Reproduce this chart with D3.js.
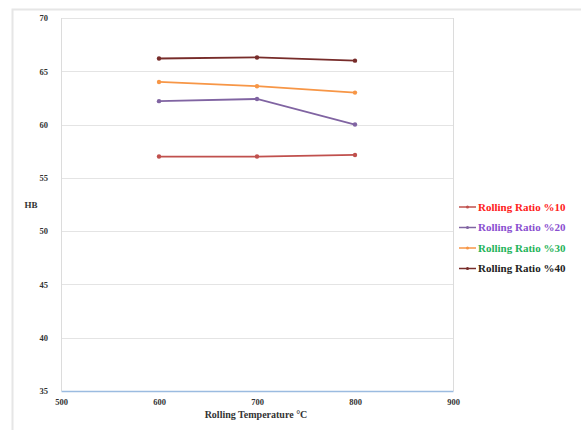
<!DOCTYPE html>
<html><head><meta charset="utf-8">
<script src="https://cdn.jsdelivr.net/npm/d3@7"></script>
<style>body{margin:0;background:#fff}svg{display:block}text{font-family:"Liberation Serif","Times New Roman",serif;font-weight:bold}</style>
</head><body>
<svg id="c" width="581" height="430"></svg>
<script>
const temps = [600, 700, 800];
const seriesNames = ["Rolling Ratio %10", "Rolling Ratio %20", "Rolling Ratio %30", "Rolling Ratio %40"];
const ratio10 = [57.0, 57.0, 57.15];
const ratio20 = [62.2, 62.4, 60.0];
const ratio30 = [64.0, 63.6, 63.0];
const ratio40 = [66.2, 66.3, 66.0];
const xTicks = [500, 600, 700, 800, 900];
const yTicks = [35, 40, 45, 50, 55, 60, 65, 70];
const lineColors = ["#c0504d", "#8064a2", "#f79646", "#772c2a"];
const textColors = ["#ff2020", "#8a4fd0", "#1fb45a", "#222222"];

const allSeries = [ratio10, ratio20, ratio30, ratio40];
const svg = d3.select("#c");
const m = {l: 61, r: 453, t: 18, b: 391};
const x = d3.scaleLinear().domain([500, 900]).range([m.l, m.r]);
const y = d3.scaleLinear().domain([35, 70]).range([m.b, m.t]);

// outer frame
svg.append("path").attr("d", `M12.5,430 L12.5,9.5 L581,9.5`).attr("fill", "none").attr("stroke", "#e6e6e6").attr("stroke-width", 2);

// gridlines
svg.append("g").selectAll("line").data(yTicks.filter(d => d > 35)).join("line")
  .attr("x1", m.l).attr("x2", m.r).attr("y1", d => Math.round(y(d)) + 0.5).attr("y2", d => Math.round(y(d)) + 0.5)
  .attr("stroke", "#e4e4e4").attr("stroke-width", 1);
// left and right plot border
svg.append("line").attr("x1", m.l + 0.5).attr("x2", m.l + 0.5).attr("y1", m.t).attr("y2", m.b).attr("stroke", "#dcdcdc");
svg.append("line").attr("x1", m.r + 0.5).attr("x2", m.r + 0.5).attr("y1", m.t).attr("y2", m.b).attr("stroke", "#dcdcdc");

// y axis labels
const yAxis = d3.axisLeft(y).tickValues(yTicks).tickSize(0).tickPadding(13);
const gy = svg.append("g").attr("transform", `translate(${m.l},0)`).call(yAxis);
gy.select(".domain").remove();
gy.selectAll("text").attr("font-size", 8.5).attr("fill", "#333").attr("font-family", "Liberation Serif").attr("font-weight", "bold");

// x axis
const xAxis = d3.axisBottom(x).tickValues(xTicks).tickSize(0).tickPadding(8).tickFormat(d3.format("d"));
const gx = svg.append("g").attr("transform", `translate(0,${m.b})`).call(xAxis);
gx.select(".domain").attr("stroke", "#9bbbe0").attr("stroke-width", 1.5);
gx.selectAll("text").attr("font-size", 8.5).attr("fill", "#333").attr("font-family", "Liberation Serif").attr("font-weight", "bold");

// axis titles
svg.append("text").attr("x", 31).attr("y", 208).attr("text-anchor", "middle").attr("font-size", 9).attr("fill", "#333").text("HB");
svg.append("text").attr("x", 256).attr("y", 418).attr("text-anchor", "middle").attr("font-size", 10).attr("fill", "#333").text("Rolling Temperature °C");

// lines
const line = d3.line().x((d, i) => x(temps[i])).y(d => y(d));
allSeries.forEach((vals, k) => {
  const g = svg.append("g");
  g.append("path").datum(vals).attr("d", line).attr("fill", "none").attr("stroke", lineColors[k]).attr("stroke-width", 1.8);
  g.selectAll("circle").data(vals).join("circle").attr("cx", (d, i) => x(temps[i])).attr("cy", d => y(d)).attr("r", 2.2).attr("fill", lineColors[k]);
});

// legend
const lg = svg.append("g");
seriesNames.forEach((name, k) => {
  const yy = 207 + k * 20.5;
  lg.append("line").attr("x1", 459).attr("x2", 476).attr("y1", yy).attr("y2", yy).attr("stroke", lineColors[k]).attr("stroke-width", 1.5);
  lg.append("circle").attr("cx", 467.5).attr("cy", yy).attr("r", 1.5).attr("fill", lineColors[k]);
  lg.append("text").attr("x", 478).attr("y", yy + 3.5).attr("font-size", 11).attr("fill", textColors[k]).text(name);
});
</script>
</body></html>
